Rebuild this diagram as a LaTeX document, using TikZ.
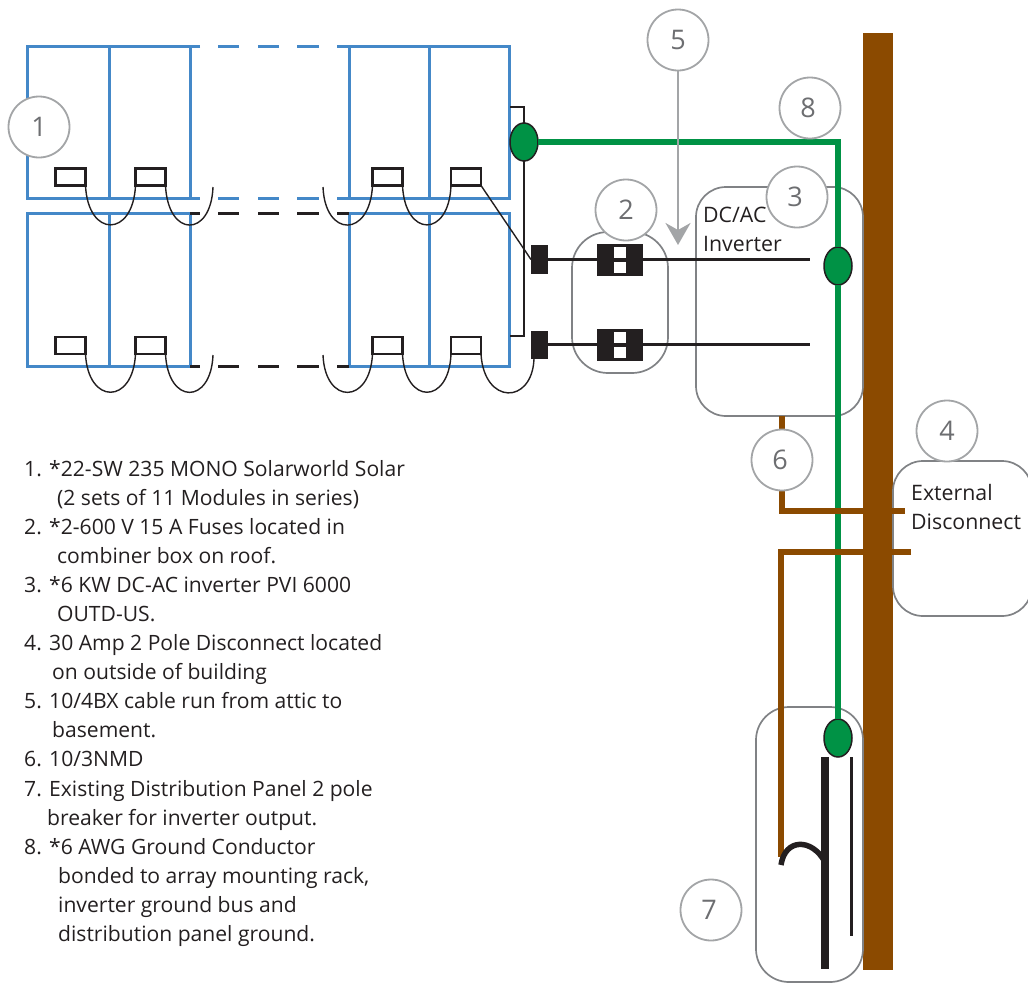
\documentclass[tikz,border=0pt]{standalone}
\usepackage{fontspec}
\setmainfont{Open Sans}
\usetikzlibrary{arrows.meta,shapes.geometric}
\definecolor{pvblue}{HTML}{4488C8}
\definecolor{pvgreen}{HTML}{009245}
\definecolor{pvbrown}{HTML}{8B4A00}
\definecolor{pvblack}{HTML}{231F20}
\definecolor{ringgrey}{HTML}{A3A5A7}
\definecolor{boxgrey}{HTML}{808285}
\definecolor{numgrey}{HTML}{6D6E71}
\tikzset{
  panel/.style={draw=pvblue,line width=3pt},
  gapped/.style={line width=3pt,dash pattern=on 10pt off 18pt on 21pt off 19pt on 21pt off 18pt on 22pt off 18pt on 12pt},
  jbox/.style={draw=pvblack,fill=white,line width=2.6pt,rectangle,minimum width=30pt,minimum height=17pt,inner sep=0pt,outer sep=0pt},
  loopwire/.style={draw=pvblack,line width=1.4pt},
  wire/.style={draw=pvblack,line width=2.2pt},
  block/.style={fill=pvblack,rectangle,minimum width=17pt,inner sep=0pt,outer sep=0pt},
  fuse/.style={fill=pvblack,rectangle,minimum width=46pt,minimum height=32pt,inner sep=0pt,outer sep=0pt},
  hole/.style={fill=white,rectangle,minimum width=12pt,minimum height=11pt,inner sep=0pt,outer sep=0pt},
  ground/.style={draw=pvgreen,line width=6pt},
  feed/.style={draw=pvbrown,line width=6pt},
  lug/.style={ellipse,draw=pvblack,fill=pvgreen,line width=1.5pt,minimum width=28pt,minimum height=38pt,inner sep=0pt,outer sep=0pt},
  enclosure/.style={draw=boxgrey,line width=1.7pt,rounded corners=30pt},
  ring/.style={circle,draw=ringgrey,fill=white,line width=1.8pt,minimum size=61pt,inner sep=0pt,text=numgrey,font=\fontsize{27}{27}\selectfont},
  legend/.style={anchor=base west,inner sep=0pt,text=pvblack,font=\fontsize{21.1}{24}\selectfont},
  tag/.style={anchor=base west,inner sep=0pt,text=pvblack,font=\fontsize{21.3}{24}\selectfont}
}
\begin{document}
\begin{tikzpicture}[x=1pt,y=-1pt]
\useasboundingbox (0,0) rectangle (1028,983);
% pole
\fill[pvbrown] (863,33) rectangle (893,970);
% panels
\draw[panel] (200,46) -- (27,46) -- (27,198) -- (200,198);
\draw[panel] (109,46) -- (109,198) (190,46) -- (190,198);
\draw[panel] (349,198) -- (349,46) -- (509,46) -- (509,198) -- (339,198);
\draw[panel] (429,46) -- (429,198);
\draw[panel] (190,213) -- (27,213) -- (27,366) -- (190,366) -- cycle;
\draw[panel] (109,213) -- (109,366);
\draw[panel] (349,213) rectangle (509,366);
\draw[panel] (429,213) -- (429,366);
\draw[gapped,draw=pvblue] (190,46) -- (349,46);
\draw[gapped,draw=pvblue] (190,198) -- (349,198);
\draw[gapped,draw=pvblack] (190,213) -- (349,213);
\draw[gapped,draw=pvblack] (190,366) -- (349,366);
% junction boxes
\node[jbox] (ja) at (70.5,177) {};
\node[jbox] (jb) at (150.5,177) {};
\node[jbox] (jc) at (387.5,177) {};
\node[jbox] (jd) at (466,177) {};
\node[jbox] (je) at (70.5,345.5) {};
\node[jbox] (jf) at (150.5,345.5) {};
\node[jbox] (jg) at (387.5,345.5) {};
\node[jbox] (jh) at (466,345.5) {};
\coordinate (endA) at (213,187);
\coordinate (endB) at (323,187);
\coordinate (endC) at (213,355);
\coordinate (endD) at (323,355);
% blocks and fuses
\node[block,minimum height=29pt] (blockA) at (539.5,259.5) {};
\node[block,minimum height=28pt] (blockB) at (539.5,344.5) {};
\coordinate (blockBlow) at (534,359);
\node[fuse] (fuseA) at (620,259.5) {};
\node[hole] (fa1) at (620,252.5) {};
\node[hole] (fa2) at (620,267.5) {};
\node[fuse] (fuseB) at (620,344.5) {};
\node[hole] (fb1) at (620,337.5) {};
\node[hole] (fb2) at (620,352.5) {};
% loops
\draw[loopwire] (ja.south east) .. controls (88,238) and (133,238) .. (jb.south west);
\draw[loopwire] (jb.south east) .. controls (168,238) and (211,238) .. (endA);
\draw[loopwire] (endB) .. controls (325,238) and (370,238) .. (jc.south west);
\draw[loopwire] (jc.south east) .. controls (405,238) and (449,238) .. (jd.south west);
\draw[loopwire] (jd.south east) -- (blockA.west);
\draw[loopwire] (je.south east) .. controls (88,405) and (133,405) .. (jf.south west);
\draw[loopwire] (jf.south east) .. controls (168,405) and (211,405) .. (endC);
\draw[loopwire] (endD) .. controls (325,405) and (370,405) .. (jg.south west);
\draw[loopwire] (jg.south east) .. controls (405,405) and (449,405) .. (jh.south west);
\draw[loopwire] (jh.south east) .. controls (484,405) and (532,405) .. (blockBlow);
% enclosures
\draw[enclosure,rounded corners=36pt] (572,232) rectangle (668,373);
\draw[enclosure] (696,187) rectangle (863,416);
\draw[enclosure,rounded corners=33pt] (756,707) rectangle (863,982);
\draw[enclosure,fill=white] (893,461) rectangle (1032,616);
% lugs and wires
\coordinate (stubTop) at (510,107);
\coordinate (stubLow) at (510,336);
\coordinate (cornerTop) at (524,107);
\coordinate (cornerLow) at (524,336);
\draw[wire] (stubTop) -- (cornerTop) -- (cornerLow) -- (stubLow);
\coordinate (endP) at (810,259.5);
\coordinate (endN) at (810,344.5);
\draw[wire] (blockA.east) -- (fuseA.west) (fuseA.east) -- (endP);
\draw[wire] (blockB.east) -- (fuseB.west) (fuseB.east) -- (endN);
\node[lug] (lugA) at (524,142) {};
\coordinate (bend) at (838,142);
\node[lug] (lugB) at (838,266) {};
\node[lug] (lugC) at (838,738) {};
\draw[ground] (lugA.east) -- (bend) -- (lugB.north);
\draw[ground] (lugB.south) -- (lugC.north);
% feeds
\coordinate (invOut) at (782,416);
\coordinate (feedA) at (782,511);
\coordinate (discA) at (905,511);
\coordinate (discB) at (911,552);
\coordinate (feedB) at (781,552);
\coordinate (feedC) at (781,857);
\draw[feed] (invOut) -- (feedA) -- (discA);
\draw[feed] (discB) -- (feedB) -- (feedC);
% breaker
\coordinate (brkStart) at (781,865);
\coordinate (busTop) at (825,757);
\coordinate (busLow) at (825,969);
\coordinate (busJoin) at (825,862);
\coordinate (gndTop) at (851,757);
\coordinate (gndLow) at (851,936);
\draw[draw=pvblack,line width=8.5pt] (busTop) -- (busLow);
\draw[draw=pvblack,line width=3pt] (gndTop) -- (gndLow);
\draw[draw=pvblack,line width=5.5pt] (brkStart) .. controls (785,838) and (812,838) .. (busJoin);
% rings
\node[ring] (n1) at (39,127) {1};
\node[ring] (n2) at (626,210) {2};
\node[ring] (n3) at (797,197) {\kern-4pt 3};
\node[ring] (n4) at (947,431) {4};
\node[ring] (n5) at (678,40) {5};
\node[ring] (n6) at (782,460) {\kern-4pt 6};
\node[ring] (n7) at (711,910) {\kern-4pt 7};
\node[ring] (n8) at (810,108) {\kern-4pt 8};
\coordinate (arrowTip) at (678,245);
\draw[draw=ringgrey,line width=2.6pt,-{Stealth[length=22pt,width=25pt,inset=7pt]}] (n5.south) -- (arrowTip);
% labels
\node[tag] (l3a) at (703,222) {DC/AC};
\node[tag] (l3b) at (703,251) {Inverter};
\node[tag] (l4a) at (911,500) {External};
\node[tag] (l4b) at (911,529) {Disconnect};
% legend
\node[legend] (t01n) at (24,476) {1.};
\node[legend] (t01) at (49,476) {*22-SW 235 MONO Solarworld Solar};
\node[legend] (t02) at (57,505) {(2 sets of 11 Modules in series)};
\node[legend] (t03n) at (24,534) {2.};
\node[legend] (t03) at (49,534) {*2-600 V 15 A Fuses located in};
\node[legend] (t04) at (57,563) {combiner box on roof.};
\node[legend] (t05n) at (24,592) {3.};
\node[legend] (t05) at (49,592) {*6 KW DC-AC inverter PVI 6000};
\node[legend] (t06) at (57,621) {OUTD-US.};
\node[legend] (t07n) at (24,650) {4.};
\node[legend] (t07) at (49,650) {30 Amp 2 Pole Disconnect located};
\node[legend] (t08) at (52,679) {on outside of building};
\node[legend] (t09n) at (24,708) {5.};
\node[legend] (t09) at (49,708) {10/4BX cable run from attic to};
\node[legend] (t10) at (52,737) {basement.};
\node[legend] (t11n) at (24,766) {6.};
\node[legend] (t11) at (49,766) {10/3NMD};
\node[legend] (t12n) at (24,796) {7.};
\node[legend] (t12) at (49,796) {Existing Distribution Panel 2 pole};
\node[legend] (t13) at (47,825) {breaker for inverter output.};
\node[legend] (t14n) at (24,854) {8.};
\node[legend] (t14) at (49,854) {*6 AWG Ground Conductor};
\node[legend] (t15) at (58,883) {bonded to array mounting rack,};
\node[legend] (t16) at (58,912) {inverter ground bus and};
\node[legend] (t17) at (58,941) {distribution panel ground.};
\end{tikzpicture}
\end{document}
